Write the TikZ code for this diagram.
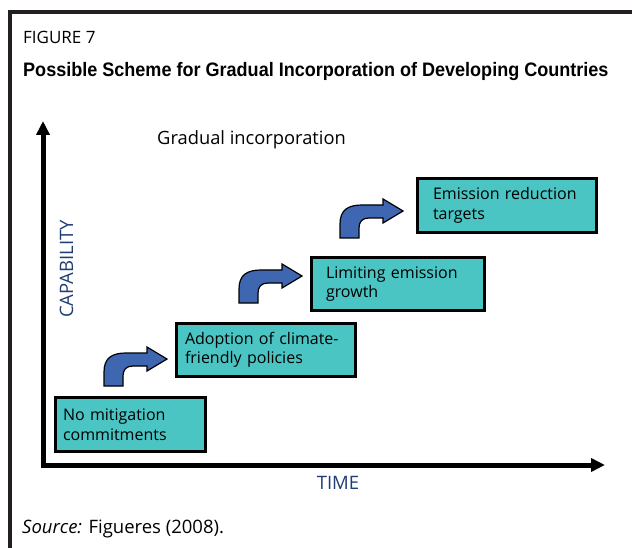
\documentclass[tikz,border=0pt]{standalone}
\usepackage{fontspec}
\setmainfont{Open Sans}
\newfontfamily\headfont[FakeStretch=0.925]{Liberation Sans}
\usetikzlibrary{arrows.meta,calc}
\definecolor{stagefill}{HTML}{4BC4C4}
\definecolor{arrowfill}{HTML}{3E66B1}
\definecolor{axistext}{HTML}{1F3D73}
\definecolor{framegray}{HTML}{231F20}

\begin{document}
\begin{tikzpicture}[x=1pt, y=-1pt,
  stage/.style={draw, line width=3pt, fill=stagefill, anchor=north west, align=left, inner ysep=0pt, font=\fontsize{16}{19.5}\selectfont},
  axislabel/.style={text=axistext, inner sep=0pt, font=\fontsize{18.5}{20}\selectfont},
  plain/.style={inner sep=0pt},
  axis/.style={line width=5pt, {Triangle[length=14pt,width=13pt]}-{Triangle[length=14pt,width=13pt]}},
  bentarrow/.pic={\draw[fill=arrowfill, line width=1.2pt] (0,0) -- (0,-14) .. controls (0,-28) and (8,-33) .. (22,-33) -- (43,-33) -- (43,-39) -- (63,-27) -- (43,-15) -- (43,-20) -- (29,-20) .. controls (22,-20) and (19,-16) .. (19,-10) -- (19,0) -- cycle;}]
  \useasboundingbox (0,0) rectangle (632,548);
  \draw[framegray, line width=3.5pt] (10,548) -- (10,12) -- (632,12);
  \node (fig) [plain, anchor=base west, font=\fontsize{17}{19}\selectfont] at (23,44) {FIGURE 7};
  \node (title) [plain, anchor=base west, font=\headfont\bfseries\fontsize{19.5}{22}\selectfont] at (23,77) {Possible Scheme for Gradual Incorporation of Developing Countries};
  \node (gradual) [plain, anchor=base west, font=\fontsize{18.3}{20}\selectfont] at (157,145) {Gradual incorporation};
  \coordinate (origin) at (43,465);
  \coordinate (ytop) at (43,121);
  \coordinate (xend) at (605,465);
  \draw[axis] (ytop) -- (origin) -- (xend);
  \node (capab) [axislabel, rotate=90, anchor=base] at (73,269) {CAPABILITY};
  \node (time) [axislabel, anchor=base] at (338,489) {TIME};
  \node (nomit) [stage, minimum width=150pt, minimum height=54pt, inner xsep=7.5pt, text width=135pt] at (54,396) {No mitigation\\commitments};
  \node (adopt) [stage, minimum width=179pt, minimum height=53pt, inner xsep=8.5pt, text width=162pt] at (175,322) {Adoption of climate-\\friendly policies};
  \node (limit) [stage, minimum width=173pt, minimum height=53pt, inner xsep=14.5pt, text width=144pt] at (310,256) {Limiting emission\\growth};
  \node (target) [stage, minimum width=179pt, minimum height=54pt, inner xsep=15.5pt, text width=148pt] at (416,177) {Emission reduction\\targets};
  \pic at ($(nomit.north west)+(50,-10)$) {bentarrow};
  \pic at ($(adopt.north west)+(64,-19)$) {bentarrow};
  \pic at ($(limit.north west)+(30,-18)$) {bentarrow};
  \node (source) [plain, anchor=base west, font=\fontsize{18.5}{20}\selectfont] at (22,533) {{\itshape Source:} Figueres (2008).};
\end{tikzpicture}
\end{document}
